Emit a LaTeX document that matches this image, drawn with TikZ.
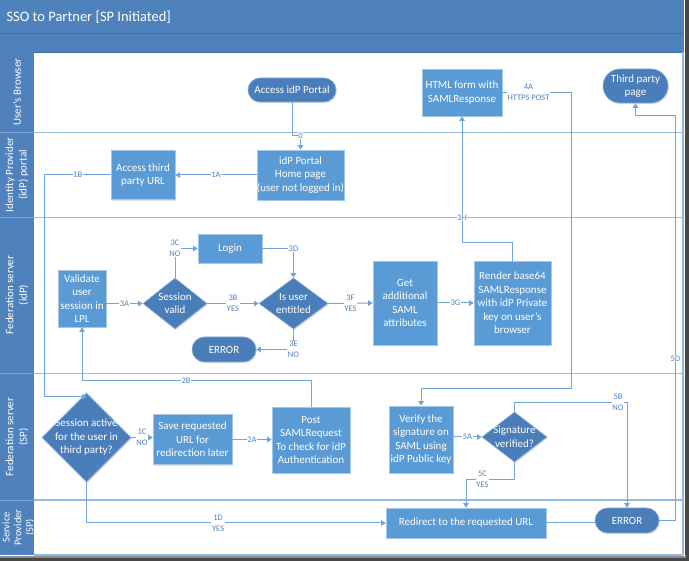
\documentclass[tikz,border=0pt]{standalone}
\usepackage{fontspec}
\setmainfont{Carlito}
\usetikzlibrary{shapes.geometric,shapes.misc,arrows.meta,shadows}
\definecolor{hdr}{RGB}{79,129,189}
\definecolor{hdrline}{RGB}{64,110,165}
\definecolor{boxc}{RGB}{91,155,213}
\definecolor{termc}{RGB}{74,126,187}
\definecolor{wire}{RGB}{112,166,220}
\definecolor{lanec}{RGB}{150,186,222}
\definecolor{tagc}{RGB}{79,129,189}
\begin{document}
\begin{tikzpicture}[x=1pt,y=-1pt,
  nodefont/.style={font=\fontsize{11}{13.5}\selectfont},
  shade/.style={drop shadow={opacity=0.22,shadow xshift=1pt,shadow yshift=-1.2pt}},
  proc/.style={rectangle, fill=boxc, draw=boxc!55!white, line width=0.6pt, text=white,
    align=center, nodefont, inner sep=0pt, shade},
  term/.style={rounded rectangle, fill=termc, draw=termc!65!white, line width=0.6pt,
    text=white, align=center, nodefont, inner sep=0pt, shade},
  dec/.style={diamond, fill=termc, draw=termc!65!white, line width=0.6pt, inner sep=0pt, shade},
  dectext/.style={text=white, align=center, nodefont, inner sep=0pt},
  flow/.style={draw=wire, line width=1pt, -{Triangle[width=5.5pt,length=4.5pt]}},
  plain/.style={draw=wire, line width=1pt},
  tag/.style={fill=white, text=tagc, font=\fontsize{8.5}{11}\selectfont, inner sep=0.6pt, align=center},
  lanetitle/.style={rotate=90, text=white, align=center, font=\fontsize{11}{13.5}\selectfont},
  laneline/.style={draw=lanec, line width=1.4pt},
]
\useasboundingbox (0,0) rectangle (689,561);

% frame with its shadow
\fill[black!72] (0,0) rectangle (689,561);
\fill[black!45] (0,555) rectangle (686,558);
\fill[white] (0,0) rectangle (685,556);

% header bars and lane title column
\fill[hdr] (0,0) rectangle (684,52);
\draw[hdrline, line width=1pt] (0,34) -- (684,34);
\draw[hdrline, line width=0.6pt] (0,52) -- (684,52);
\fill[hdr] (0,52) rectangle (34,555);
\node[anchor=west, text=white, font=\fontsize{14.5}{16}\selectfont] (title) at (3,17) {SSO to Partner [SP Initiated]};

% lane borders
\foreach \yy in {132.5,217.5,373.5,500} {
  \draw[laneline] (34,\yy) -- (683,\yy);
  \draw[hdr!75!white, line width=0.5pt] (0,\yy) -- (34,\yy);
}
\draw[laneline] (34,555) -- (683,555);
\draw[laneline] (683,52) -- (683,555);

% lane titles
\node[lanetitle] (lane1) at (17,92) {User’s Browser};
\node[lanetitle] (lane2) at (17,175) {Identity Provider\\(idP) portal};
\node[lanetitle] (lane3) at (17,295) {Federation server\\(idP)};
\node[lanetitle] (lane4) at (17,437) {Federation server\\(SP)};
\node[lanetitle, font=\fontsize{10.5}{11.8}\selectfont] (lane5) at (18.5,527.5) {Service\\Provider\\(SP)};

% user's browser
\node[term, minimum width=88pt, minimum height=24pt] (acc) at (292,90) {Access idP Portal};
\node[proc, minimum width=80pt, minimum height=47pt] (html) at (462,92.5) {HTML form with\\SAMLResponse};
\node[term, minimum width=65pt, minimum height=34pt] (tp) at (635.5,86) {Third party\\page};

% identity provider portal
\node[proc, minimum width=87pt, minimum height=50pt] (portal) at (300.5,175) {idP Portal\\Home page\\(user not logged in)};
\node[proc, minimum width=64pt, minimum height=49pt] (third) at (143,175) {Access third\\party URL};

% federation server (idP)
\node[proc, minimum width=48pt, minimum height=57pt] (valid) at (82,298.5) {Validate\\user\\session in\\LPL};
\node[dec, minimum width=64pt, minimum height=51pt] (sv) at (175,303.5) {};
\node[dectext] (svt) at (sv) {Session\\valid};
\node[proc, minimum width=64pt, minimum height=29pt] (login) at (230,248.5) {Login};
\node[dec, minimum width=69pt, minimum height=51pt] (ent) at (293.5,303.5) {};
\node[dectext] (entt) at (ent) {Is user\\entitled};
\node[term, minimum width=64pt, minimum height=25pt] (err1) at (224,349.5) {ERROR};
\node[proc, minimum width=64pt, minimum height=84pt] (get) at (405,303) {Get\\additional\\SAML\\attributes};
\node[proc, minimum width=77pt, minimum height=84pt] (render) at (512.5,303) {Render base64\\SAMLResponse\\with idP Private\\key on user’s\\browser};

% federation server (SP)
\node[dec, minimum width=89pt, minimum height=89pt] (sa) at (86.5,437.5) {};
\node[dectext] (sat) at (sa) {Session active\\for the user in\\third party?};
\node[proc, minimum width=79pt, minimum height=50pt] (save) at (192.5,439.5) {Save requested\\URL for\\redirection later};
\node[proc, minimum width=78pt, minimum height=66pt] (post) at (311,440) {Post\\SAMLRequest\\To check for idP\\Authentication};
\node[proc, minimum width=64pt, minimum height=67pt] (verify) at (421,439.5) {Verify the\\signature on\\SAML using\\idP Public key};
\node[dec, minimum width=65pt, minimum height=50pt] (sig) at (514.5,437) {};
\node[dectext] (sigt) at (sig) {Signature\\verified?};

% service provider
\node[proc, minimum width=160pt, minimum height=30pt] (redir) at (466,523) {Redirect to the requested URL};
\node[term, minimum width=64pt, minimum height=25pt] (err2) at (627,520.5) {ERROR};

% connectors
\draw[flow] (acc.south) -- ++(0,33) -| node[tag, pos=0.5] (l0) {0} (portal.north);
\draw[flow] (portal.west) -- node[tag] (l1a) {1A} (third.east);
\draw[flow] (third.west) -- node[tag] (l1b) {1B} ++(-66,0) |- ([yshift=-4pt]sa.north);
\draw[flow] (sa.east) -- node[tag] (l1c) {1C\\NO} (sa.east -| save.west);
\draw[flow] (save.east) -- node[tag] (l2a) {2A} (save.east -| post.west);
\draw[flow] (post.north) -- ++(0,-26) -| node[tag, pos=0.273] (l2b) {2B} (valid.south);
\draw[flow] (sa.south) |- node[tag, pos=0.72] (l1d) {1D\\YES} (redir.west);

\draw[flow] (valid.east |- sv.west) -- node[tag] (l3a) {3A} (sv.west);
\draw[flow] (sv.east) -- node[tag] (l3b) {3B\\YES} (ent.west);
\draw[flow] (sv.north) |- node[tag, pos=0.5] (l3c) {3C\\NO} (login.west);
\draw[flow] (login.east) -| node[tag, pos=0.5] (l3d) {3D} (ent.north);
\draw[flow] (ent.south) |- node[tag, pos=0.5] (l3e) {3E\\NO} (err1.east);
\draw[flow] (ent.east) -- node[tag] (l3f) {3F\\YES} (get.west);
\draw[flow] (get.east) -- node[tag] (l3g) {3G} (render.west);
\draw[flow] (render.north) -- ++(0,-18) -| node[tag, pos=0.6] (l3h) {3H} (html.south);

\draw[flow] (html.east) -- node[tag, pos=0.38] (l4a) {4A\\HTTPS POST} ++(69,0) -- ++(0,296) -| (verify.north);
\draw[flow] (verify.east |- sig.west) -- node[tag] (l5a) {5A} (sig.west);
\draw[flow] (sig.north) -- ++(0,-9) -| node[tag, pos=0.46] (l5b) {5B\\NO} (err2.north);
\draw[flow] (sig.south) -- ++(0,17) -| node[tag, pos=0.33] (l5c) {5C\\YES} (redir.north);
\draw[plain] (redir.east) -- (redir.east -| err2.west);
\draw[flow] (err2.east) -- ++(16,0) -- node[tag, pos=0.4] (l5d) {5D} ++(0,-404.5) -| (tp.south);
\end{tikzpicture}
\end{document}
